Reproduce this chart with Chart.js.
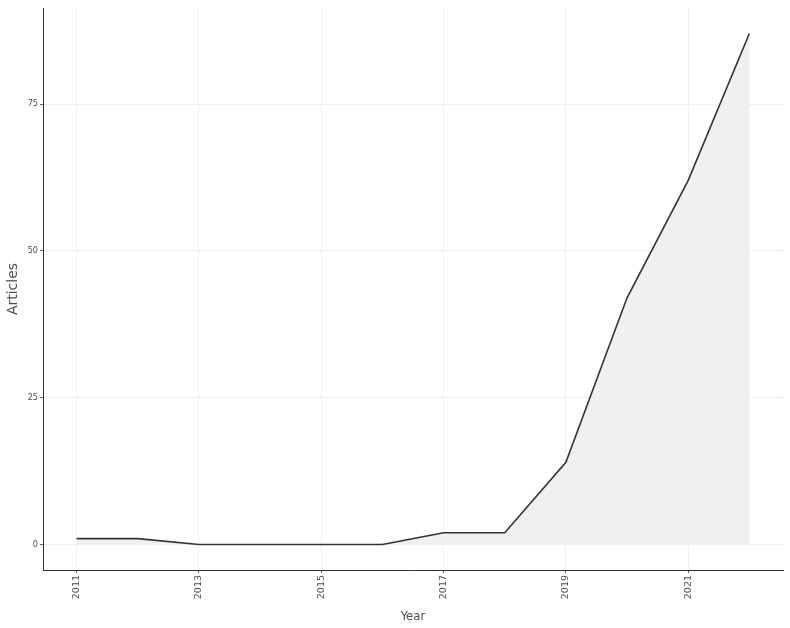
<!DOCTYPE html>
<html>
<head>
<meta charset="utf-8">
<script src="https://cdn.jsdelivr.net/npm/chart.js@4.4.0/dist/chart.umd.min.js"></script>
<style>
  html, body { margin: 0; padding: 0; background: #fff; }
  #wrap { width: 790px; height: 628px; }
</style>
</head>
<body>
<div id="wrap"><canvas id="articles-chart" width="790" height="628"></canvas></div>
<script>
var years = [2011, 2012, 2013, 2014, 2015, 2016, 2017, 2018, 2019, 2020, 2021, 2022];
var articles = [1, 1, 0, 0, 0, 0, 2, 2, 14, 42, 62, 87];
var x_ticks = [2011, 2013, 2015, 2017, 2019, 2021];
var y_ticks = [0, 25, 50, 75];

var points = years.map((yr, i) => ({ x: yr, y: articles[i] }));

var title_color = "#4d4d4d";

new Chart(document.getElementById("articles-chart"), {
  type: "line",
  data: {
    datasets: [
      {
        label: "Articles",
        data: points,
        borderColor: "#333333",
        borderWidth: 1.6,
        backgroundColor: "#f0f0f0",
        fill: "origin",
        pointRadius: 0,
        tension: 0,
      },
    ],
  },
  options: {
    responsive: false,
    animation: false,
    layout: { padding: { top: 8, right: 7, left: 0, bottom: 0 } },
    plugins: {
      legend: { display: false },
      tooltip: { enabled: false },
    },
    scales: {
      x: {
        type: "linear",
        min: 2010.45,
        max: 2022.55,
        afterBuildTicks: (axis) => {
          axis.ticks = x_ticks.map((v) => ({ value: v }));
        },
        afterFit: (axis) => {
          axis.height = 58;
        },
        ticks: {
          font: { family: "DejaVu Sans", size: 9.5 },
          color: title_color,
          minRotation: 90,
          maxRotation: 90,
          padding: 2,
          callback: (v) => String(v),
        },
        grid: {
          color: "#ececec",
          tickColor: "#333333",
          tickLength: 3,
          lineWidth: 0.8,
        },
        border: { color: "#333333", width: 1 },
        title: {
          display: true,
          text: "Year",
          color: title_color,
          font: { family: "DejaVu Sans Condensed, DejaVu Sans", size: 13 },
          padding: { top: 0, bottom: 4 },
        },
      },
      y: {
        type: "linear",
        min: -4.35,
        max: 91.35,
        afterBuildTicks: (axis) => {
          axis.ticks = y_ticks.map((v) => ({ value: v }));
        },
        afterFit: (axis) => {
          axis.width = 43;
        },
        ticks: {
          font: { family: "DejaVu Sans Condensed, DejaVu Sans", size: 9 },
          color: title_color,
          padding: 2,
        },
        grid: {
          color: "#ececec",
          tickColor: "#333333",
          tickLength: 3,
          lineWidth: 0.8,
        },
        border: { color: "#333333", width: 1 },
        title: {
          display: true,
          text: "Articles",
          color: title_color,
          font: { family: "DejaVu Sans", size: 14 },
          padding: { top: 5, bottom: 0 },
        },
      },
    },
  },
});
</script>
</body>
</html>
